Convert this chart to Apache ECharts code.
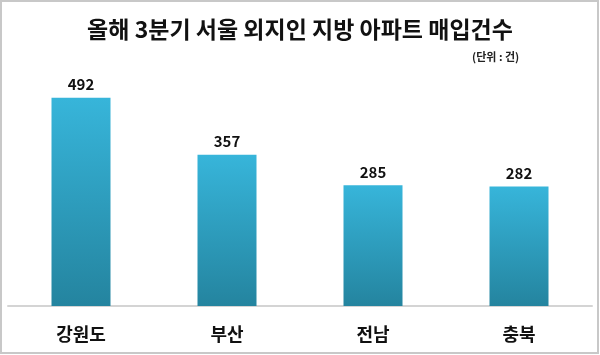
<!DOCTYPE html>
<html>
<head>
<meta charset="utf-8">
<script src="https://cdn.jsdelivr.net/npm/echarts@6/dist/echarts.min.js"></script>
<style>
  html, body { margin: 0; padding: 0; background: #fff; }
  #chart { width: 600px; height: 355px; }
</style>
</head>
<body>
<div id="chart"></div>
<script>
// 서울 외지인 지방 아파트 매입건수
var categories = ['강원도', '부산', '전남', '충북']
var values = [492, 357, 285, 282]

var font = '"Noto Sans CJK KR", "Noto Sans", sans-serif'

var chart = echarts.init(document.getElementById('chart'))
chart.setOption({
  animation: false,
  title: [{
    text: '올해 3분기 서울 외지인 지방 아파트 매입건수',
    left: 'center',
    top: 13,
    textStyle: { fontFamily: font, fontSize: 23, fontWeight: 'bold', color: '#111' }
  }, {
    text: '(단위 : 건)',
    left: 467,
    top: 46,
    textStyle: { fontFamily: font, fontSize: 11, fontWeight: 'bold', color: '#222' }
  }],
  graphic: [{
    type: 'rect',
    shape: { x: 1, y: 1, width: 597, height: 352 },
    style: { fill: 'none', stroke: '#c8c8c8', lineWidth: 2 },
    silent: true
  }],
  grid: { left: 8, right: 8, top: 52, bottom: 49 },
  xAxis: {
    type: 'category',
    data: categories,
    axisTick: { show: false },
    axisLine: { lineStyle: { color: '#d4d4d4', width: 2 } },
    axisLabel: {
      margin: 19,
      fontFamily: font, fontSize: 18, fontWeight: 'bold', color: '#111'
    }
  },
  yAxis: {
    type: 'value',
    min: 0,
    max: 600,
    show: false,
    splitLine: { show: false }
  },
  series: [{
    type: 'bar',
    data: values,
    barWidth: 59,
    itemStyle: {
      color: new echarts.graphic.LinearGradient(0, 0, 0, 1, [
        { offset: 0, color: '#37b5da' },
        { offset: 1, color: '#24849f' }
      ])
    },
    label: {
      show: true,
      position: 'top',
      distance: 6,
      fontFamily: font, fontSize: 15, fontWeight: 'bold', color: '#111'
    }
  }]
})
</script>
</body>
</html>
